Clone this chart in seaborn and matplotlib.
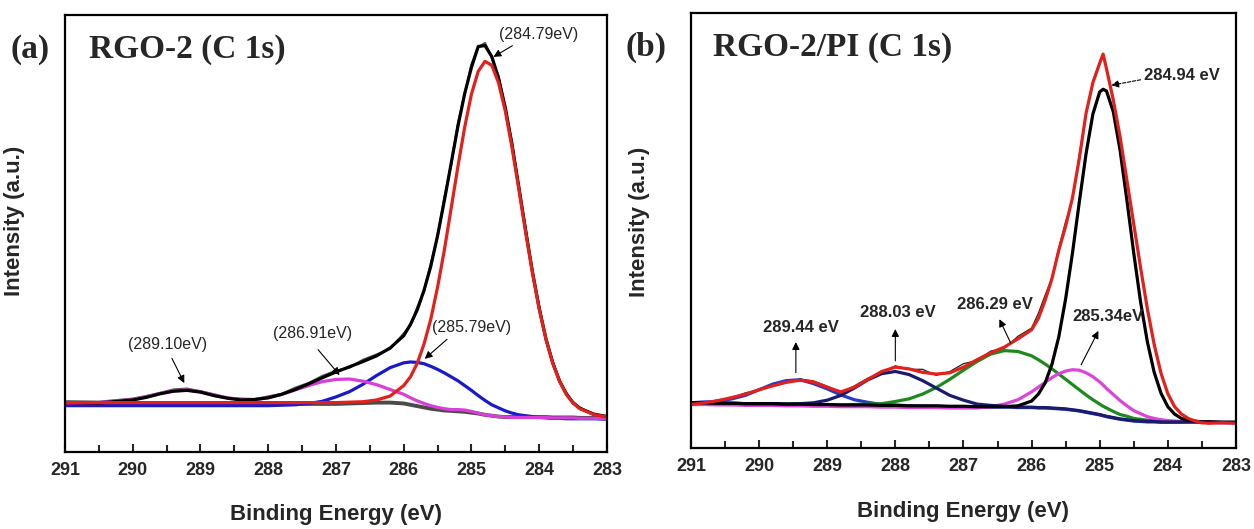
import matplotlib
matplotlib.use("Agg")
import matplotlib.pyplot as plt
import seaborn as sns
import pandas as pd

# ---------------- data: panel (a) RGO-2 C 1s ----------------
energy_a = [291.0, 290.5, 290.0, 289.8, 289.6, 289.4, 289.2, 289.0, 288.8, 288.6, 288.4, 288.2,
            288.0, 287.8, 287.6, 287.4, 287.2, 287.0, 286.8, 286.6, 286.4, 286.2, 286.0, 285.9,
            285.8, 285.7, 285.6, 285.5, 285.4, 285.3, 285.2, 285.1, 285.0, 284.9, 284.8, 284.7,
            284.6, 284.5, 284.4, 284.3, 284.2, 284.1, 284.0, 283.9, 283.8, 283.7, 283.6, 283.5,
            283.4, 283.2, 283.0]
raw_a = [0.116, 0.115, 0.122, 0.128, 0.135, 0.143, 0.145, 0.139, 0.132, 0.124, 0.122, 0.121,
         0.127, 0.133, 0.147, 0.158, 0.174, 0.186, 0.193, 0.211, 0.223, 0.236, 0.271, 0.290,
         0.331, 0.368, 0.431, 0.493, 0.582, 0.657, 0.752, 0.818, 0.887, 0.926, 0.936, 0.903,
         0.861, 0.784, 0.708, 0.603, 0.512, 0.410, 0.334, 0.256, 0.208, 0.160, 0.136, 0.111,
         0.102, 0.085, 0.082]
background_a = [0.110, 0.110, 0.110, 0.110, 0.110, 0.110, 0.110, 0.110, 0.110, 0.110, 0.110, 0.110,
                0.110, 0.110, 0.110, 0.110, 0.110, 0.110, 0.111, 0.112, 0.113, 0.113, 0.111, 0.108,
                0.105, 0.102, 0.099, 0.097, 0.095, 0.094, 0.093, 0.092, 0.090, 0.088, 0.085, 0.083,
                0.081, 0.080, 0.080, 0.080, 0.080, 0.080, 0.080, 0.080, 0.079, 0.079, 0.079, 0.079,
                0.078, 0.078, 0.077]
peak_284_79 = [0.113, 0.113, 0.113, 0.113, 0.113, 0.113, 0.113, 0.113, 0.113, 0.113, 0.113, 0.113,
               0.113, 0.113, 0.113, 0.113, 0.113, 0.113, 0.114, 0.115, 0.119, 0.128, 0.152, 0.172,
               0.203, 0.247, 0.304, 0.377, 0.462, 0.557, 0.653, 0.743, 0.819, 0.871, 0.894, 0.885,
               0.845, 0.780, 0.696, 0.601, 0.503, 0.410, 0.327, 0.258, 0.203, 0.162, 0.132, 0.112,
               0.099, 0.086, 0.080]
peak_285_79 = [0.106, 0.106, 0.106, 0.106, 0.106, 0.106, 0.106, 0.106, 0.106, 0.106, 0.106, 0.106,
               0.106, 0.107, 0.108, 0.111, 0.116, 0.126, 0.138, 0.155, 0.175, 0.193, 0.204, 0.206,
               0.205, 0.202, 0.196, 0.189, 0.181, 0.172, 0.163, 0.152, 0.141, 0.129, 0.118, 0.108,
               0.101, 0.094, 0.089, 0.085, 0.083, 0.081, 0.079, 0.078, 0.077, 0.077, 0.076, 0.076,
               0.076, 0.076, 0.075]
peaks_286_91_289_10 = [0.112, 0.113, 0.120, 0.126, 0.134, 0.140, 0.142, 0.138, 0.130, 0.124, 0.120, 0.120,
                       0.124, 0.132, 0.142, 0.152, 0.161, 0.166, 0.167, 0.162, 0.154, 0.143, 0.132, 0.124,
                       0.117, 0.111, 0.106, 0.102, 0.099, 0.097, 0.097, 0.096, 0.093, 0.089, 0.085, 0.083,
                       0.081, 0.080, 0.079, 0.079, 0.079, 0.079, 0.079, 0.079, 0.078, 0.078, 0.078, 0.078,
                       0.077, 0.077, 0.076]
envelope_a = [0.113, 0.112, 0.119, 0.125, 0.133, 0.139, 0.141, 0.137, 0.129, 0.123, 0.119, 0.120,
              0.124, 0.132, 0.143, 0.156, 0.170, 0.183, 0.195, 0.207, 0.220, 0.238, 0.266, 0.292,
              0.325, 0.370, 0.425, 0.495, 0.575, 0.660, 0.745, 0.820, 0.880, 0.928, 0.930, 0.905,
              0.855, 0.788, 0.702, 0.606, 0.507, 0.413, 0.329, 0.259, 0.204, 0.163, 0.133, 0.113,
              0.100, 0.087, 0.081]

# ---------------- data: panel (b) RGO-2/PI C 1s ----------------
energy_b = [291.0, 290.8, 290.6, 290.4, 290.2, 290.0, 289.8, 289.6, 289.4, 289.2, 289.0, 288.8,
            288.6, 288.4, 288.2, 288.0, 287.8, 287.6, 287.4, 287.2, 287.0, 286.8, 286.6, 286.4,
            286.2, 286.0, 285.9, 285.8, 285.7, 285.6, 285.5, 285.4, 285.3, 285.2, 285.1, 285.0,
            284.95, 284.9, 284.8, 284.7, 284.6, 284.5, 284.4, 284.3, 284.2, 284.1, 284.0, 283.9,
            283.8, 283.7, 283.6, 283.5, 283.4, 283.2, 283.0]
raw_b = [0.103, 0.103, 0.111, 0.115, 0.127, 0.133, 0.146, 0.150, 0.159, 0.154, 0.142, 0.127,
         0.143, 0.161, 0.174, 0.189, 0.181, 0.181, 0.167, 0.176, 0.194, 0.201, 0.223, 0.229,
         0.257, 0.276, 0.310, 0.352, 0.392, 0.461, 0.521, 0.572, 0.675, 0.768, 0.845, 0.887,
         0.903, 0.875, 0.805, 0.712, 0.620, 0.512, 0.418, 0.318, 0.241, 0.170, 0.127, 0.094,
         0.079, 0.067, 0.062, 0.059, 0.056, 0.058, 0.056]
peak_289_44 = [0.104, 0.106, 0.107, 0.113, 0.121, 0.134, 0.147, 0.155, 0.157, 0.148, 0.136, 0.122,
               0.111, 0.105, 0.100, 0.099, 0.097, 0.096, 0.096, 0.095, 0.095, 0.094, 0.094, 0.094,
               0.093, 0.093, 0.092, 0.092, 0.091, 0.090, 0.089, 0.087, 0.085, 0.082, 0.079, 0.076,
               0.074, 0.072, 0.069, 0.066, 0.064, 0.062, 0.061, 0.060, 0.060, 0.059, 0.059, 0.059,
               0.059, 0.059, 0.059, 0.059, 0.059, 0.058, 0.058]
peak_288_03 = [0.104, 0.104, 0.103, 0.103, 0.102, 0.102, 0.102, 0.101, 0.102, 0.104, 0.110, 0.121,
               0.138, 0.157, 0.171, 0.176, 0.169, 0.155, 0.138, 0.121, 0.110, 0.101, 0.098, 0.096,
               0.094, 0.094, 0.093, 0.093, 0.092, 0.091, 0.090, 0.088, 0.086, 0.083, 0.080, 0.077,
               0.075, 0.073, 0.070, 0.067, 0.065, 0.063, 0.062, 0.061, 0.061, 0.060, 0.060, 0.060,
               0.060, 0.060, 0.060, 0.060, 0.060, 0.059, 0.059]
peak_286_29 = [0.104, 0.104, 0.103, 0.103, 0.102, 0.102, 0.102, 0.101, 0.101, 0.100, 0.100, 0.099,
               0.100, 0.101, 0.102, 0.107, 0.113, 0.124, 0.139, 0.158, 0.179, 0.199, 0.216, 0.224,
               0.222, 0.212, 0.203, 0.193, 0.182, 0.170, 0.158, 0.146, 0.134, 0.122, 0.111, 0.101,
               0.096, 0.092, 0.084, 0.077, 0.073, 0.068, 0.066, 0.064, 0.063, 0.061, 0.061, 0.060,
               0.059, 0.059, 0.059, 0.059, 0.059, 0.059, 0.059]
peak_285_34 = [0.100, 0.100, 0.099, 0.099, 0.098, 0.098, 0.098, 0.097, 0.097, 0.096, 0.096, 0.095,
               0.095, 0.095, 0.094, 0.094, 0.093, 0.093, 0.093, 0.092, 0.092, 0.092, 0.095, 0.101,
               0.111, 0.129, 0.140, 0.151, 0.162, 0.171, 0.177, 0.180, 0.179, 0.173, 0.164, 0.152,
               0.145, 0.137, 0.123, 0.109, 0.097, 0.086, 0.079, 0.072, 0.068, 0.065, 0.063, 0.062,
               0.061, 0.060, 0.060, 0.060, 0.060, 0.059, 0.059]
peak_284_94 = [0.104, 0.104, 0.103, 0.103, 0.102, 0.102, 0.102, 0.101, 0.101, 0.100, 0.100, 0.099,
               0.099, 0.099, 0.098, 0.098, 0.097, 0.097, 0.097, 0.096, 0.096, 0.095, 0.095, 0.095,
               0.097, 0.108, 0.124, 0.150, 0.193, 0.256, 0.343, 0.448, 0.565, 0.677, 0.768, 0.819,
               0.825, 0.821, 0.773, 0.684, 0.569, 0.448, 0.336, 0.244, 0.174, 0.126, 0.095, 0.078,
               0.068, 0.064, 0.062, 0.060, 0.060, 0.059, 0.059]
envelope_b = [0.100, 0.104, 0.109, 0.116, 0.124, 0.134, 0.143, 0.151, 0.156, 0.152, 0.140, 0.129,
              0.140, 0.158, 0.176, 0.186, 0.182, 0.174, 0.170, 0.173, 0.186, 0.203, 0.219, 0.232,
              0.251, 0.272, 0.298, 0.340, 0.390, 0.455, 0.510, 0.575, 0.665, 0.770, 0.840, 0.885,
              0.906, 0.872, 0.800, 0.715, 0.615, 0.515, 0.415, 0.320, 0.238, 0.172, 0.125, 0.095,
              0.078, 0.068, 0.062, 0.058, 0.057, 0.058, 0.057]

tick_values = [291, 290, 289, 288, 287, 286, 285, 284, 283]
labels_a = ["(284.79eV)", "(285.79eV)", "(286.91eV)", "(289.10eV)"]
labels_b = ["284.94 eV", "285.34eV", "286.29 eV", "288.03 eV", "289.44 eV"]

# ---------------- figure ----------------
sns.set_style("ticks")
plt.rcParams["font.family"] = ["Liberation Sans", "DejaVu Sans"]

fig = plt.figure(figsize=(12.54, 5.29), dpi=100)
ax_a = fig.add_axes([0.0518, 0.1456, 0.4322, 0.826])
ax_b = fig.add_axes([0.5510, 0.1531, 0.4346, 0.822])

df_a = pd.DataFrame({"E": energy_a, "raw": raw_a, "bg": background_a, "p1": peak_284_79,
                     "p2": peak_285_79, "p3": peaks_286_91_289_10, "env": envelope_a})
df_b = pd.DataFrame({"E": energy_b, "raw": raw_b, "p1": peak_284_94, "p2": peak_285_34,
                     "p3": peak_286_29, "p4": peak_288_03, "p5": peak_289_44, "env": envelope_b})

LW = 2.3
RED = "#e3201c"
sns.lineplot(data=df_a, x="E", y="bg", ax=ax_a, color="#4a4a4a", lw=2.8, sort=False)
sns.lineplot(data=df_a, x="E", y="raw", ax=ax_a, color="#505050", lw=1.6, sort=False)
sns.lineplot(data=df_a, x="E", y="p2", ax=ax_a, color="#1a1acc", lw=LW, sort=False)
sns.lineplot(data=df_a, x="E", y="p3", ax=ax_a, color="#d83fd8", lw=LW, sort=False)
sns.lineplot(data=df_a, x="E", y="env", ax=ax_a, color="black", lw=LW, sort=False)
sns.lineplot(data=df_a, x="E", y="p1", ax=ax_a, color=RED, lw=LW, sort=False)

sns.lineplot(data=df_b, x="E", y="p5", ax=ax_b, color="#2a3acb", lw=LW, sort=False)
sns.lineplot(data=df_b, x="E", y="p3", ax=ax_b, color="#1e8a1e", lw=LW, sort=False)
sns.lineplot(data=df_b, x="E", y="p2", ax=ax_b, color="#dd44dd", lw=LW, sort=False)
sns.lineplot(data=df_b, x="E", y="p4", ax=ax_b, color="#1b1b6e", lw=LW, sort=False)
sns.lineplot(data=df_b, x="E", y="p1", ax=ax_b, color="black", lw=LW, sort=False)
sns.lineplot(data=df_b, x="E", y="raw", ax=ax_b, color="#222222", lw=0.9, sort=False)
sns.lineplot(data=df_b, x="E", y="env", ax=ax_b, color=RED, lw=LW, sort=False)

for ax in (ax_a, ax_b):
    ax.set_xlim(291, 283)
    ax.set_ylim(0, 1)
    ax.set_yticks([])
    ax.set_xticks(tick_values)
    ax.set_xticklabels([str(t) for t in tick_values], fontsize=13, fontweight="bold")
    ax.set_xticks([290.5, 289.5, 288.5, 287.5, 286.5, 285.5, 284.5, 283.5], minor=True)
    ax.tick_params(axis="x", which="major", direction="in", length=6, width=1.5, pad=7)
    ax.tick_params(axis="x", which="minor", direction="in", length=5, width=1.5)
    for s in ax.spines.values():
        s.set_visible(True)
        s.set_linewidth(1.6)
        s.set_color("black")
    ax.set_xlabel("Binding Energy (eV)", fontsize=16, fontweight="bold")
    ax.set_ylabel("Intensity (a.u.)", fontsize=16, fontweight="bold")

ax_a.xaxis.set_label_coords(0.5, -0.12)
ax_b.xaxis.set_label_coords(0.5, -0.122)
ax_a.yaxis.set_label_coords(-0.074, 0.53)
ax_b.yaxis.set_label_coords(-0.075, 0.52)

# panel titles
ax_a.text(-0.065, 0.92, "(a)", transform=ax_a.transAxes, ha="center", va="center",
          fontsize=24, fontweight="bold", family="Liberation Serif")
ax_a.text(0.044, 0.92, "RGO-2 (C 1s)", transform=ax_a.transAxes, ha="left", va="center",
          fontsize=24, fontweight="bold", family="Liberation Serif")
ax_b.text(-0.083, 0.922, "(b)", transform=ax_b.transAxes, ha="center", va="center",
          fontsize=24, fontweight="bold", family="Liberation Serif")
ax_b.text(0.040, 0.922, "RGO-2/PI (C 1s)", transform=ax_b.transAxes, ha="left", va="center",
          fontsize=24, fontweight="bold", family="Liberation Serif")

arrow = dict(arrowstyle="-|>", color="black", lw=0.8, mutation_scale=11)

# panel (a) annotations: text position, arrow tail, arrow head
ann_a = [((284.01, 0.956), (284.36, 0.933), (284.71, 0.901)),
         ((285.00, 0.285), (285.33, 0.262), (285.72, 0.209)),
         ((287.35, 0.272), (287.29, 0.239), (286.92, 0.171)),
         ((289.48, 0.246), (289.44, 0.220), (289.22, 0.152))]
for lab, (tp, tail, head) in zip(labels_a, ann_a):
    ax_a.text(tp[0], tp[1], lab, ha="center", va="center", fontsize=11.5)
    ax_a.annotate("", xy=head, xytext=tail, arrowprops=arrow)

ann_b = [((283.80, 0.856), (284.36, 0.848), (284.87, 0.833)),
         ((284.88, 0.303), (285.29, 0.186), (285.00, 0.275)),
         ((286.54, 0.331), (286.29, 0.236), (286.49, 0.302)),
         ((287.96, 0.312), (288.00, 0.194), (288.00, 0.280)),
         ((289.38, 0.277), (289.46, 0.167), (289.46, 0.250))]
for i, (lab, (tp, tail, head)) in enumerate(zip(labels_b, ann_b)):
    ax_b.text(tp[0], tp[1], lab, ha="center", va="center", fontsize=12, fontweight="bold")
    props = dict(arrow)
    if i == 0:
        props["linestyle"] = (0, (3, 1.5))
    ax_b.annotate("", xy=head, xytext=tail, arrowprops=props)

fig.savefig("out.png", dpi=100, facecolor="white")
